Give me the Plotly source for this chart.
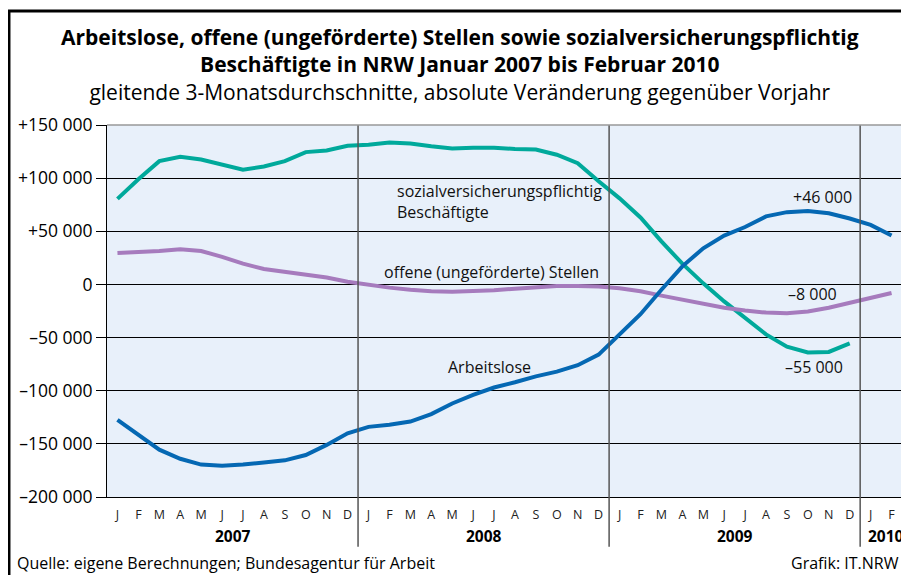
import plotly.graph_objects as go

months = ["J", "F", "M", "A", "M", "J", "J", "A", "S", "O", "N", "D"] * 3 + ["J", "F"]
years = ["2007", "2008", "2009", "2010"]

arbeitslose = [-127500, -141500, -155500, -164000, -169500, -170500, -169500, -167500, -165500, -160500, -151000, -140000,
               -134000, -132000, -129000, -122000, -112000, -104000, -97000, -92000, -86500, -82000, -76000, -66000,
               -47000, -28000, -5000, 17000, 34000, 46000, 54000, 64000, 68000, 69000, 67000, 62000,
               56000, 46000]
offene = [29500, 30300, 31500, 33000, 31500, 26000, 19500, 14500, 12000, 9500, 6500, 2500,
          -500, -3000, -5000, -6500, -7000, -6500, -5500, -4000, -2500, -1500, -1500, -2000,
          -3500, -6500, -10500, -14500, -18500, -22000, -24500, -26500, -27000, -25500, -22000, -17500,
          -12500, -8000]
sozial = [80500, 99000, 116000, 120000, 117500, 112500, 108000, 111000, 116000, 124500, 126000, 130500,
          131500, 133500, 132500, 130000, 128000, 128500, 128500, 127500, 127000, 122000, 114000, 97000,
          81000, 63000, 40500, 19500, 1000, -16000, -32000, -47000, -58500, -64000, -63500, -55500,
          None, None]

yticks = [150000, 100000, 50000, 0, -50000, -100000, -150000, -200000]
ytick_text = ["+150 000", "+100 000", "+50 000", "0", "\u201350 000", "\u2013100 000", "\u2013150 000", "\u2013200 000"]

x = list(range(len(months)))
FONT = "Open Sans"


def px(py):
    # page pixel row -> paper y (plot area 125..497)
    return (497 - py) / 372


fig = go.Figure()
fig.add_trace(go.Scatter(x=x, y=sozial, mode="lines", line=dict(color="#00a99b", width=4), name="sozial"))
fig.add_trace(go.Scatter(x=x, y=offene, mode="lines", line=dict(color="#a67bbd", width=4), name="offene"))
fig.add_trace(go.Scatter(x=x, y=arbeitslose, mode="lines", line=dict(color="#0568b3", width=4), name="Arbeitslose"))

fig.update_xaxes(range=[-0.5, 37.5], tickvals=x, ticktext=months, showgrid=False, zeroline=False,
                 ticks="", ticklabelstandoff=6, tickfont=dict(size=12.5, color="#222"),
                 showline=True, linecolor="black", linewidth=1)
fig.update_yaxes(range=[-200000, 150000], tickvals=yticks, ticktext=ytick_text, showgrid=True,
                 gridcolor="black", gridwidth=1, zeroline=False, ticks="outside", ticklen=10,
                 tickcolor="black", tickfont=dict(size=17.5, color="black"),
                 showline=True, linecolor="black", linewidth=1)

# year separators extending below the plot
for b in [11.5, 23.5, 35.5]:
    fig.add_shape(type="line", xref="x", yref="paper", x0=b, x1=b, y0=-0.134, y1=1,
                  line=dict(color="#555", width=1.5))
# top line grey
fig.add_shape(type="line", xref="paper", yref="paper", x0=0, x1=1, y0=1, y1=1,
              line=dict(color="#999", width=1.5))
# frame
fig.add_shape(type="line", xref="paper", yref="paper", x0=-0.1233, x1=-0.1233, y0=-0.3, y1=px(11),
              line=dict(color="black", width=3))
fig.add_shape(type="line", xref="paper", yref="paper", x0=-0.1245, x1=1.02, y0=px(11), y1=px(11),
              line=dict(color="black", width=3))

for yr, xc in zip(years, [5.5, 17.5, 29.5, 36.75]):
    fig.add_annotation(x=xc, y=px(536), xref="x", yref="paper", text=f"<b>{yr}</b>", showarrow=False,
                       yanchor="middle", font=dict(size=15.5, color="black"))

fig.add_annotation(
    x=(460 - 107) / 795, y=px(65), xref="paper", yref="paper", showarrow=False, yanchor="middle",
    text="<b>Arbeitslose, offene (ungeförderte) Stellen sowie sozialversicherungspflichtig<br>"
         "Beschäftigte in NRW Januar 2007 bis Februar 2010</b><br>"
         "gleitende 3-Monatsdurchschnitte, absolute Veränderung gegenüber Vorjahr",
    font=dict(size=21, color="black"))

fig.add_annotation(x=(15 - 107) / 795, y=px(563), xref="paper", yref="paper",
                   text="Quelle: eigene Berechnungen; Bundesagentur für Arbeit", showarrow=False,
                   xanchor="left", yanchor="middle", font=dict(size=16, color="black"))
fig.add_annotation(x=(901 - 107) / 795, y=px(563), xref="paper", yref="paper",
                   text="Grafik: IT.NRW", showarrow=False, xanchor="right", yanchor="middle",
                   font=dict(size=16, color="black"))

labels = [
    ("sozialversicherungspflichtig<br>Beschäftigte", 13.27, 78000, "left"),
    ("offene (ungeförderte) Stellen", 23.1, 11500, "right"),
    ("Arbeitslose", 15.7, -77700, "left"),
    ("+46 000", 33.7, 82300, "center"),
    ("\u20138 000", 33.2, -9000, "center"),
    ("\u201355 000", 33.3, -77700, "center"),
]
for txt, lx, ly, anc in labels:
    fig.add_annotation(x=lx, y=ly, text=txt, showarrow=False, xanchor=anc, align="left",
                       yanchor="middle", font=dict(size=16, color="#111"))

# the page adds an 8px body margin, so the figure is sized to fit inside 909x575
fig.update_layout(width=901, height=567, margin=dict(l=99, r=7, t=117, b=78),
                  plot_bgcolor="#e8f0fa", paper_bgcolor="white", showlegend=False,
                  font=dict(family=FONT, color="black"))
fig.write_html("out.html")
